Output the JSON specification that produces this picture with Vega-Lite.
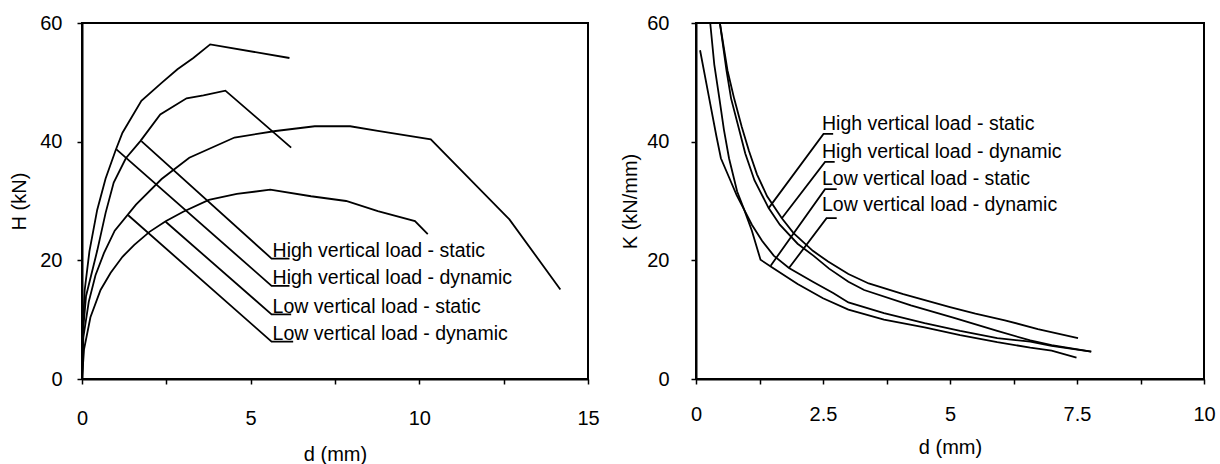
{
  "$schema": "https://vega.github.io/schema/vega-lite/v6.json",
  "background": "white",
  "padding": {"left": 8, "top": 12, "right": 2, "bottom": 2},
  "spacing": 18,
  "config": {
    "view": {"stroke": "black", "strokeWidth": 2},
    "axis": {"grid": false, "domainColor": "black", "domainWidth": 2, "tickColor": "black", "tickWidth": 1.5, "tickSize": 5,
      "labelColor": "black", "labelFont": "Liberation Sans", "labelFontSize": 20, "labelPadding": 19,
      "titleFont": "Liberation Sans", "titleFontSize": 20, "titleFontWeight": "normal", "titleColor": "black", "titlePadding": 11,
      "labelFlush": false, "labelOverlap": false},
    "text": {"font": "Liberation Sans", "fontSize": 19.5, "color": "black", "align": "left", "baseline": "alphabetic"}
  },
  "datasets": {
    "curvesH": [
      {"load": "High vertical load - dynamic", "d": 0, "H": 0},
      {"load": "High vertical load - dynamic", "d": 0.02, "H": 8},
      {"load": "High vertical load - dynamic", "d": 0.08, "H": 15},
      {"load": "High vertical load - dynamic", "d": 0.22, "H": 21.5},
      {"load": "High vertical load - dynamic", "d": 0.45, "H": 28.5},
      {"load": "High vertical load - dynamic", "d": 0.7, "H": 33.8},
      {"load": "High vertical load - dynamic", "d": 1.0, "H": 38.6},
      {"load": "High vertical load - dynamic", "d": 1.2, "H": 41.5},
      {"load": "High vertical load - dynamic", "d": 1.76, "H": 46.9},
      {"load": "High vertical load - dynamic", "d": 2.36, "H": 49.9},
      {"load": "High vertical load - dynamic", "d": 2.83, "H": 52.2},
      {"load": "High vertical load - dynamic", "d": 3.3, "H": 54.1},
      {"load": "High vertical load - dynamic", "d": 3.8, "H": 56.4},
      {"load": "High vertical load - dynamic", "d": 6.15, "H": 54.1},
      {"load": "High vertical load - static", "d": 0, "H": 0},
      {"load": "High vertical load - static", "d": 0.03, "H": 8},
      {"load": "High vertical load - static", "d": 0.12, "H": 14},
      {"load": "High vertical load - static", "d": 0.45, "H": 21.6},
      {"load": "High vertical load - static", "d": 0.7, "H": 28},
      {"load": "High vertical load - static", "d": 0.94, "H": 33.1},
      {"load": "High vertical load - static", "d": 1.3, "H": 37.2},
      {"load": "High vertical load - static", "d": 1.73, "H": 40.1},
      {"load": "High vertical load - static", "d": 2.32, "H": 44.6},
      {"load": "High vertical load - static", "d": 3.1, "H": 47.3},
      {"load": "High vertical load - static", "d": 3.6, "H": 47.8},
      {"load": "High vertical load - static", "d": 4.25, "H": 48.6},
      {"load": "High vertical load - static", "d": 6.2, "H": 39},
      {"load": "Low vertical load - dynamic", "d": 0, "H": 0},
      {"load": "Low vertical load - dynamic", "d": 0.04, "H": 7},
      {"load": "Low vertical load - dynamic", "d": 0.2, "H": 13},
      {"load": "Low vertical load - dynamic", "d": 0.4, "H": 17.5},
      {"load": "Low vertical load - dynamic", "d": 0.65, "H": 21.2},
      {"load": "Low vertical load - dynamic", "d": 0.97, "H": 25},
      {"load": "Low vertical load - dynamic", "d": 1.6, "H": 29.4},
      {"load": "Low vertical load - dynamic", "d": 2.36, "H": 33.7},
      {"load": "Low vertical load - dynamic", "d": 3.18, "H": 37.3},
      {"load": "Low vertical load - dynamic", "d": 4.52, "H": 40.7},
      {"load": "Low vertical load - dynamic", "d": 5.74, "H": 41.8},
      {"load": "Low vertical load - dynamic", "d": 6.9, "H": 42.6},
      {"load": "Low vertical load - dynamic", "d": 7.95, "H": 42.6},
      {"load": "Low vertical load - dynamic", "d": 8.77, "H": 41.8},
      {"load": "Low vertical load - dynamic", "d": 10.34, "H": 40.4},
      {"load": "Low vertical load - dynamic", "d": 12.67, "H": 26.9},
      {"load": "Low vertical load - dynamic", "d": 14.18, "H": 15.1},
      {"load": "Low vertical load - static", "d": 0, "H": 0},
      {"load": "Low vertical load - static", "d": 0.06, "H": 5},
      {"load": "Low vertical load - static", "d": 0.25, "H": 10.4},
      {"load": "Low vertical load - static", "d": 0.55, "H": 15},
      {"load": "Low vertical load - static", "d": 0.85, "H": 17.9},
      {"load": "Low vertical load - static", "d": 1.2, "H": 20.6},
      {"load": "Low vertical load - static", "d": 1.55, "H": 22.6},
      {"load": "Low vertical load - static", "d": 2.0, "H": 24.8},
      {"load": "Low vertical load - static", "d": 2.48, "H": 26.6},
      {"load": "Low vertical load - static", "d": 3.0, "H": 28.2},
      {"load": "Low vertical load - static", "d": 3.76, "H": 30.2},
      {"load": "Low vertical load - static", "d": 4.59, "H": 31.2},
      {"load": "Low vertical load - static", "d": 5.58, "H": 31.9},
      {"load": "Low vertical load - static", "d": 6.79, "H": 30.8},
      {"load": "Low vertical load - static", "d": 7.83, "H": 30.0},
      {"load": "Low vertical load - static", "d": 8.77, "H": 28.3},
      {"load": "Low vertical load - static", "d": 9.87, "H": 26.6},
      {"load": "Low vertical load - static", "d": 10.25, "H": 24.4}
    ],
    "leadersH": [
      {"load": "High vertical load - static", "i": 0, "d": 1.76, "H": 40.1},
      {"load": "High vertical load - static", "i": 1, "d": 5.62, "H": 20.3},
      {"load": "High vertical load - static", "i": 2, "d": 6.15, "H": 20.3},
      {"load": "High vertical load - dynamic", "i": 0, "d": 1.02, "H": 38.7},
      {"load": "High vertical load - dynamic", "i": 1, "d": 5.62, "H": 15.7},
      {"load": "High vertical load - dynamic", "i": 2, "d": 6.15, "H": 15.7},
      {"load": "Low vertical load - static", "i": 0, "d": 2.48, "H": 26.5},
      {"load": "Low vertical load - static", "i": 1, "d": 5.62, "H": 10.9},
      {"load": "Low vertical load - static", "i": 2, "d": 6.2, "H": 10.9},
      {"load": "Low vertical load - dynamic", "i": 0, "d": 1.37, "H": 27.6},
      {"load": "Low vertical load - dynamic", "i": 1, "d": 5.62, "H": 6.3},
      {"load": "Low vertical load - dynamic", "i": 2, "d": 6.26, "H": 6.3}
    ],
    "labelsH": [
      {"load": "High vertical load - static", "d": 5.65, "H": 20.6},
      {"load": "High vertical load - dynamic", "d": 5.65, "H": 16.0},
      {"load": "Low vertical load - static", "d": 5.65, "H": 11.2},
      {"load": "Low vertical load - dynamic", "d": 5.65, "H": 6.6}
    ],
    "curvesK": [
      {"load": "High vertical load - dynamic", "d": 0.47, "K": 60},
      {"load": "High vertical load - dynamic", "d": 0.62, "K": 52},
      {"load": "High vertical load - dynamic", "d": 0.75, "K": 47.3},
      {"load": "High vertical load - dynamic", "d": 0.9, "K": 42.5},
      {"load": "High vertical load - dynamic", "d": 1.04, "K": 38.5},
      {"load": "High vertical load - dynamic", "d": 1.2, "K": 34.5},
      {"load": "High vertical load - dynamic", "d": 1.4, "K": 30.8},
      {"load": "High vertical load - dynamic", "d": 1.69, "K": 27.1},
      {"load": "High vertical load - dynamic", "d": 1.92, "K": 24.6},
      {"load": "High vertical load - dynamic", "d": 2.3, "K": 21.6},
      {"load": "High vertical load - dynamic", "d": 2.6, "K": 19.8},
      {"load": "High vertical load - dynamic", "d": 3.0, "K": 17.7},
      {"load": "High vertical load - dynamic", "d": 3.4, "K": 16.1},
      {"load": "High vertical load - dynamic", "d": 4.08, "K": 14.3},
      {"load": "High vertical load - dynamic", "d": 5.0, "K": 12.1},
      {"load": "High vertical load - dynamic", "d": 5.5, "K": 11.0},
      {"load": "High vertical load - dynamic", "d": 6.08, "K": 9.9},
      {"load": "High vertical load - dynamic", "d": 6.73, "K": 8.4},
      {"load": "High vertical load - dynamic", "d": 7.52, "K": 6.9},
      {"load": "High vertical load - static", "d": 0.47, "K": 60},
      {"load": "High vertical load - static", "d": 0.6, "K": 52},
      {"load": "High vertical load - static", "d": 0.69, "K": 47.3},
      {"load": "High vertical load - static", "d": 0.85, "K": 42},
      {"load": "High vertical load - static", "d": 0.97, "K": 38},
      {"load": "High vertical load - static", "d": 1.15, "K": 33.5},
      {"load": "High vertical load - static", "d": 1.43, "K": 28.8},
      {"load": "High vertical load - static", "d": 1.65, "K": 26},
      {"load": "High vertical load - static", "d": 2.0, "K": 22.8},
      {"load": "High vertical load - static", "d": 2.31, "K": 20.8},
      {"load": "High vertical load - static", "d": 2.62, "K": 18.6},
      {"load": "High vertical load - static", "d": 3.0, "K": 16.4},
      {"load": "High vertical load - static", "d": 3.31, "K": 15.0},
      {"load": "High vertical load - static", "d": 4.23, "K": 12.4},
      {"load": "High vertical load - static", "d": 5.08, "K": 10.3},
      {"load": "High vertical load - static", "d": 5.93, "K": 8.1},
      {"load": "High vertical load - static", "d": 6.58, "K": 6.5},
      {"load": "High vertical load - static", "d": 7.0, "K": 5.7},
      {"load": "High vertical load - static", "d": 7.78, "K": 4.6},
      {"load": "Low vertical load - dynamic", "d": 0.28, "K": 60},
      {"load": "Low vertical load - dynamic", "d": 0.36, "K": 53},
      {"load": "Low vertical load - dynamic", "d": 0.46, "K": 47.3},
      {"load": "Low vertical load - dynamic", "d": 0.55, "K": 42},
      {"load": "Low vertical load - dynamic", "d": 0.65, "K": 37.2},
      {"load": "Low vertical load - dynamic", "d": 0.81, "K": 31.6},
      {"load": "Low vertical load - dynamic", "d": 0.95, "K": 28.5},
      {"load": "Low vertical load - dynamic", "d": 1.1, "K": 26},
      {"load": "Low vertical load - dynamic", "d": 1.3, "K": 23.3},
      {"load": "Low vertical load - dynamic", "d": 1.53, "K": 20.8},
      {"load": "Low vertical load - dynamic", "d": 1.83, "K": 18.7},
      {"load": "Low vertical load - dynamic", "d": 2.3, "K": 16.4},
      {"load": "Low vertical load - dynamic", "d": 2.7, "K": 14.5},
      {"load": "Low vertical load - dynamic", "d": 3.0, "K": 12.9},
      {"load": "Low vertical load - dynamic", "d": 3.7, "K": 11.1},
      {"load": "Low vertical load - dynamic", "d": 4.5, "K": 9.4},
      {"load": "Low vertical load - dynamic", "d": 5.2, "K": 8.1},
      {"load": "Low vertical load - dynamic", "d": 5.93, "K": 6.9},
      {"load": "Low vertical load - dynamic", "d": 6.58, "K": 6.3},
      {"load": "Low vertical load - dynamic", "d": 7.0, "K": 5.6},
      {"load": "Low vertical load - dynamic", "d": 7.78, "K": 4.6},
      {"load": "Low vertical load - static", "d": 0.08, "K": 55.4},
      {"load": "Low vertical load - static", "d": 0.26, "K": 47.3},
      {"load": "Low vertical load - static", "d": 0.4, "K": 41},
      {"load": "Low vertical load - static", "d": 0.49, "K": 37.2},
      {"load": "Low vertical load - static", "d": 0.65, "K": 34},
      {"load": "Low vertical load - static", "d": 0.8, "K": 31},
      {"load": "Low vertical load - static", "d": 0.95, "K": 28.5},
      {"load": "Low vertical load - static", "d": 1.1, "K": 25},
      {"load": "Low vertical load - static", "d": 1.27, "K": 20.1},
      {"load": "Low vertical load - static", "d": 1.5, "K": 18.8},
      {"load": "Low vertical load - static", "d": 2.0, "K": 16.0},
      {"load": "Low vertical load - static", "d": 2.5, "K": 13.6},
      {"load": "Low vertical load - static", "d": 3.0, "K": 11.7},
      {"load": "Low vertical load - static", "d": 3.7, "K": 10.0},
      {"load": "Low vertical load - static", "d": 4.5, "K": 8.7},
      {"load": "Low vertical load - static", "d": 5.2, "K": 7.4},
      {"load": "Low vertical load - static", "d": 5.93, "K": 6.2},
      {"load": "Low vertical load - static", "d": 6.58, "K": 5.3},
      {"load": "Low vertical load - static", "d": 7.0, "K": 4.8},
      {"load": "Low vertical load - static", "d": 7.49, "K": 3.6}
    ],
    "leadersK": [
      {"load": "High vertical load - static", "i": 0, "d": 1.43, "K": 28.8},
      {"load": "High vertical load - static", "i": 1, "d": 2.51, "K": 41.3},
      {"load": "High vertical load - static", "i": 2, "d": 2.7, "K": 41.3},
      {"load": "High vertical load - dynamic", "i": 0, "d": 1.69, "K": 27.1},
      {"load": "High vertical load - dynamic", "i": 1, "d": 2.54, "K": 36.6},
      {"load": "High vertical load - dynamic", "i": 2, "d": 2.73, "K": 36.6},
      {"load": "Low vertical load - static", "i": 0, "d": 1.47, "K": 19.1},
      {"load": "Low vertical load - static", "i": 1, "d": 2.54, "K": 32.0},
      {"load": "Low vertical load - static", "i": 2, "d": 2.77, "K": 32.0},
      {"load": "Low vertical load - dynamic", "i": 0, "d": 1.83, "K": 18.7},
      {"load": "Low vertical load - dynamic", "i": 1, "d": 2.57, "K": 27.1},
      {"load": "Low vertical load - dynamic", "i": 2, "d": 2.77, "K": 27.1}
    ],
    "labelsK": [
      {"load": "High vertical load - static", "d": 2.48, "K": 41.9},
      {"load": "High vertical load - dynamic", "d": 2.48, "K": 37.3},
      {"load": "Low vertical load - static", "d": 2.48, "K": 32.7},
      {"load": "Low vertical load - dynamic", "d": 2.48, "K": 28.3}
    ]
  },
  "hconcat": [
    {
      "width": 506,
      "height": 356,
      "layer": [
        {
          "data": {"name": "curvesH"},
          "mark": {"type": "line", "color": "black", "strokeWidth": 1.8, "clip": true},
          "encoding": {
            "x": {"field": "d", "type": "quantitative", "scale": {"domain": [0, 15], "nice": false},
              "axis": {"title": "d (mm)", "values": [0, 2.5, 5, 7.5, 10, 12.5, 15], "labelPadding": 24, "titlePadding": 16, "labelExpr": "datum.value % 5 === 0 ? toString(datum.value) : ''"}},
            "y": {"field": "H", "type": "quantitative", "scale": {"domain": [0, 60], "nice": false},
              "axis": {"title": "H (kN)", "values": [0, 20, 40, 60], "labelPadding": 15, "titlePadding": 10}},
            "detail": {"field": "load"}
          }
        },
        {
          "data": {"name": "leadersH"},
          "mark": {"type": "line", "color": "black", "strokeWidth": 1.8},
          "encoding": {
            "x": {"field": "d", "type": "quantitative"},
            "y": {"field": "H", "type": "quantitative"},
            "detail": {"field": "load"},
            "order": {"field": "i"}
          }
        },
        {
          "data": {"name": "labelsH"},
          "mark": {"type": "text"},
          "encoding": {
            "x": {"field": "d", "type": "quantitative"},
            "y": {"field": "H", "type": "quantitative"},
            "text": {"field": "load"}
          }
        }
      ]
    },
    {
      "width": 508,
      "height": 356,
      "layer": [
        {
          "data": {"name": "curvesK"},
          "mark": {"type": "line", "color": "black", "strokeWidth": 1.8, "clip": true},
          "encoding": {
            "x": {"field": "d", "type": "quantitative", "scale": {"domain": [0, 10], "nice": false},
              "axis": {"title": "d (mm)", "values": [0, 1.25, 2.5, 3.75, 5, 6.25, 7.5, 8.75, 10], "labelPadding": 20, "titlePadding": 13, "labelExpr": "datum.value % 2.5 === 0 ? toString(datum.value) : ''"}},
            "y": {"field": "K", "type": "quantitative", "scale": {"domain": [0, 60], "nice": false},
              "axis": {"title": "K (kN/mm)", "values": [0, 20, 40, 60], "labelPadding": 22, "titlePadding": 6}},
            "detail": {"field": "load"}
          }
        },
        {
          "data": {"name": "leadersK"},
          "mark": {"type": "line", "color": "black", "strokeWidth": 1.8},
          "encoding": {
            "x": {"field": "d", "type": "quantitative"},
            "y": {"field": "K", "type": "quantitative"},
            "detail": {"field": "load"},
            "order": {"field": "i"}
          }
        },
        {
          "data": {"name": "labelsK"},
          "mark": {"type": "text"},
          "encoding": {
            "x": {"field": "d", "type": "quantitative"},
            "y": {"field": "K", "type": "quantitative"},
            "text": {"field": "load"}
          }
        }
      ]
    }
  ]
}
